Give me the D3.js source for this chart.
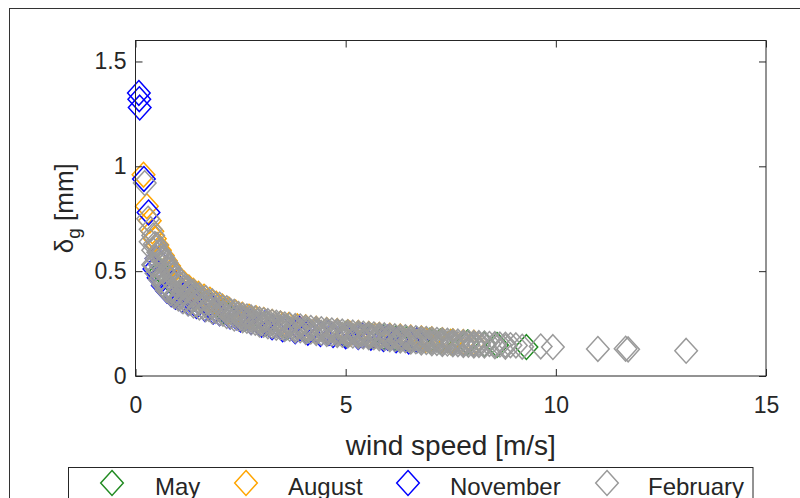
<!DOCTYPE html>
<html>
<head>
<meta charset="utf-8">
<script src="https://cdn.jsdelivr.net/npm/d3@7"></script>
<style>
  body { margin: 0; background: #fff; }
  text { font-family: Arial, "Liberation Sans", sans-serif; fill: #262626; }
</style>
</head>
<body>
<div id="chart"></div>
<script>
const months = ["May", "August", "November", "February"];
const colors = ["#228b22", "#ffa500", "#0000ff", "#9a9a9a"];
const xTicks = [0, 5, 10, 15];
const yTicks = [0, 0.5, 1, 1.5];

// [wind speed, delta_g]
const may = [[0.6,0.5],[0.85,0.45],[1.1,0.405],[1.4,0.37],[1.75,0.34],[2.1,0.31],[2.6,0.274],[3.1,0.25],
  [3.6,0.233],[4.1,0.219],[4.6,0.207],[5.0,0.2],[5.3,0.195],[5.6,0.19],[5.9,0.186],[6.2,0.18],[6.45,0.177],
  [6.7,0.172],[7.0,0.168],[7.25,0.165],[7.5,0.162],[7.9,0.16],[8.3,0.152],[8.6,0.148],[9.3,0.138]];

const august = [[0.19,0.96],[0.27,0.81],[0.34,0.74],[0.4,0.69],[0.46,0.655],[0.52,0.625],[0.58,0.6],[0.65,0.575],
  [0.72,0.55],[0.8,0.525],[0.88,0.5],[0.97,0.478],[1.06,0.458],[1.16,0.44],[1.27,0.422],[1.38,0.406],[1.5,0.392],
  [1.63,0.378],[1.77,0.364],[1.92,0.345],[2.07,0.331],[2.22,0.317],[2.38,0.303],[2.54,0.292],[2.7,0.283],
  [2.87,0.275],[3.05,0.267],[3.25,0.258],[3.45,0.25],[3.65,0.243],[3.85,0.237],[4.05,0.232],[4.3,0.225],
  [4.55,0.219],[4.8,0.214],[5.05,0.209],[5.3,0.205],[5.55,0.2],[5.8,0.196],[6.05,0.192],[6.3,0.188],
  [6.55,0.183],[6.8,0.179],[7.05,0.175],[7.3,0.171],[7.55,0.166],[7.8,0.162],[8.05,0.159],
  [0.7,0.49],[1.1,0.41],[1.6,0.355],[2.2,0.305],[2.9,0.265],[3.5,0.242],[4.3,0.215],[5.1,0.202],
  [5.7,0.192],[6.3,0.182],[6.9,0.172],[7.5,0.162]];

const november = [[0.08,1.35],[0.09,1.32],[0.1,1.28],[0.2,0.94],[0.31,0.78],
  [0.45,0.51],[0.55,0.468],[0.65,0.432],[0.75,0.407],[0.85,0.39],[0.95,0.378],[1.1,0.362],[1.26,0.348],
  [1.45,0.334],[1.65,0.32],[1.85,0.308],[2.0,0.299],[2.25,0.284],[2.5,0.27],[2.75,0.257],[3.0,0.244],
  [3.25,0.233],[3.5,0.223],[3.8,0.214],[4.1,0.206],[4.4,0.2],[4.7,0.195],[5.0,0.19],[5.3,0.186],
  [5.6,0.182],[5.9,0.177],[6.2,0.17],[6.5,0.164],
  [0.5,0.56],[0.9,0.45],[1.3,0.38],[1.8,0.33],[2.4,0.28],[3.1,0.255],[3.9,0.225],[4.6,0.205],
  [5.4,0.193],[6.0,0.182],[6.7,0.172]];

const february = [[0.22,0.92],[0.3,0.75],[0.36,0.7],[0.36,0.64],
  [0.42,0.67],[0.42,0.6],[0.42,0.53],[0.5,0.625],[0.5,0.56],[0.5,0.49],[0.58,0.59],[0.58,0.53],[0.58,0.46],
  [0.66,0.565],[0.66,0.5],[0.66,0.435],[0.74,0.54],[0.74,0.48],[0.74,0.41],[0.83,0.51],[0.83,0.46],[0.83,0.395],
  [0.92,0.485],[0.92,0.44],[0.92,0.382],[1.02,0.462],[1.02,0.42],[1.02,0.37],[1.13,0.44],[1.13,0.4],[1.13,0.357],
  [1.25,0.42],[1.25,0.385],[1.25,0.346],[1.38,0.402],[1.38,0.37],[1.38,0.336],[1.52,0.386],[1.52,0.357],[1.52,0.327],
  [1.67,0.372],[1.67,0.345],[1.67,0.318],[1.83,0.356],[1.83,0.333],[1.83,0.308],[2.0,0.34],[2.0,0.32],[2.0,0.299],
  [2.17,0.323],[2.17,0.306],[2.17,0.286],[2.35,0.306],[2.35,0.292],[2.35,0.274],[2.55,0.29],[2.55,0.278],[2.55,0.266],
  [2.75,0.28],[2.75,0.268],[2.75,0.256],[2.95,0.27],[2.95,0.258],[2.95,0.246],[3.15,0.262],[3.15,0.25],[3.15,0.237],
  [3.35,0.254],[3.35,0.242],[3.35,0.23],[3.55,0.246],[3.55,0.235],[3.55,0.224],[3.8,0.238],[3.8,0.227],[3.8,0.217],
  [4.05,0.231],[4.05,0.221],[4.05,0.21],[4.3,0.225],[4.3,0.215],[4.3,0.205],[4.55,0.219],[4.55,0.209],[4.55,0.2],
  [4.8,0.214],[4.8,0.205],[4.8,0.196],[5.05,0.209],[5.05,0.2],[5.05,0.193],[5.3,0.205],[5.3,0.196],[5.3,0.189],
  [5.55,0.2],[5.55,0.192],[5.55,0.185],[5.8,0.196],[5.8,0.188],[5.8,0.18],[6.05,0.191],[6.05,0.183],[6.05,0.175],
  [6.3,0.187],[6.3,0.178],[6.3,0.169],[6.55,0.182],[6.55,0.173],[6.55,0.164],[6.8,0.178],[6.8,0.169],[6.8,0.16],
  [7.05,0.174],[7.05,0.165],[7.05,0.156],[7.3,0.17],[7.3,0.161],[7.3,0.153],[7.55,0.165],[7.55,0.158],[7.55,0.151],
  [7.8,0.161],[7.8,0.155],[7.8,0.148],[8.05,0.158],[8.05,0.152],[8.05,0.145],[8.3,0.155],[8.3,0.145],
  [8.55,0.152],[8.55,0.142],[8.8,0.149],[8.8,0.14],[9.05,0.146],[9.2,0.14],[9.64,0.141],[9.93,0.138],
  [11.0,0.129],[11.66,0.13],[11.72,0.127],[13.1,0.12],
  [0.46,0.63],[0.46,0.53],[0.54,0.59],[0.54,0.5],[0.62,0.56],[0.62,0.47],[0.7,0.53],[0.7,0.445],
  [0.78,0.505],[0.78,0.425],[0.87,0.48],[0.87,0.41],[0.97,0.455],[0.97,0.395],[1.07,0.435],[1.07,0.38],
  [1.19,0.415],[1.19,0.365],[1.31,0.398],[1.31,0.352],[1.45,0.382],[1.45,0.34],[1.6,0.368],[1.6,0.33],
  [1.75,0.354],[1.75,0.32],[1.91,0.34],[1.91,0.31],[2.08,0.326],[2.08,0.297],[2.26,0.31],[2.26,0.285],
  [2.45,0.296],[2.45,0.274],[2.65,0.284],[2.65,0.264],[2.85,0.275],[2.85,0.254],[3.05,0.266],[3.05,0.245],
  [3.25,0.258],[3.25,0.238],[3.45,0.25],[3.45,0.231],[3.67,0.243],[3.67,0.225],[3.92,0.236],[3.92,0.218],
  [4.17,0.229],[4.17,0.212],[4.42,0.223],[4.42,0.206],[4.67,0.217],[4.67,0.201],[4.92,0.212],[4.92,0.197],
  [5.17,0.207],[5.17,0.193],[5.42,0.202],[5.42,0.189],[5.67,0.198],[5.67,0.185],[5.92,0.194],[5.92,0.18],
  [6.17,0.189],[6.17,0.175],[6.42,0.185],[6.42,0.17],[6.67,0.18],[6.67,0.166],[6.92,0.176],[6.92,0.162],
  [7.17,0.172],[7.17,0.158],[7.42,0.168],[7.42,0.155],[7.67,0.164],[7.67,0.152],[7.92,0.16],[7.92,0.149],
  [8.17,0.157],[8.17,0.148],[8.42,0.153],[8.67,0.15],[8.92,0.147]];

const series = [may, august, november, february];

const width = 800, height = 498;
const svg = d3.select("#chart").append("svg")
  .attr("width", width)
  .attr("height", height);

// figure border (cropped on the right and bottom)
svg.append("rect")
  .attr("x", 9.5).attr("y", 8.5)
  .attr("width", 900).attr("height", 600)
  .attr("fill", "none").attr("stroke", "#333");

const plotLeft = 135.5, plotRight = 766, plotTop = 40.5, plotBottom = 376;

const x = d3.scaleLinear().domain([0, 15]).range([plotLeft, plotRight]);
const y = d3.scaleLinear().domain([0, 1.6]).range([plotBottom, plotTop]);

const diamond = (hw, hh) => `M0,${-hh}L${hw},0L0,${hh}L${-hw},0Z`;
const marker = diamond(11.3, 12.4);

// markers
const plot = svg.append("g");
series.forEach((data, i) => {
  plot.append("g")
    .selectAll("path")
    .data(data)
    .join("path")
    .attr("d", marker)
    .attr("transform", d => `translate(${x(d[0])},${y(d[1])})`)
    .attr("fill", "none")
    .attr("stroke", colors[i])
    .attr("stroke-width", 1.5);
});

// axes, ticks pointing inward on all four sides
const tickLen = 7;
const styleAxis = g => {
  g.select(".domain").remove();
  g.selectAll(".tick line").attr("stroke", "#262626");
  g.selectAll(".tick text").attr("font-size", 23).attr("fill", "#262626")
    .attr("font-family", "Arial, 'Liberation Sans', sans-serif");
};

svg.append("g")
  .attr("transform", `translate(0,${plotBottom})`)
  .call(d3.axisBottom(x).tickValues(xTicks).tickSizeInner(-tickLen).tickSizeOuter(0)
    .tickPadding(21).tickFormat(d => d))
  .call(styleAxis);

svg.append("g")
  .attr("transform", `translate(0,${plotTop})`)
  .call(d3.axisTop(x).tickValues(xTicks).tickSizeInner(-tickLen).tickSizeOuter(0).tickFormat(""))
  .call(styleAxis);

svg.append("g")
  .attr("transform", `translate(${plotLeft},0)`)
  .call(d3.axisLeft(y).tickValues(yTicks).tickSizeInner(-tickLen).tickSizeOuter(0)
    .tickPadding(9).tickFormat(d => d))
  .call(styleAxis);

svg.append("g")
  .attr("transform", `translate(${plotRight},0)`)
  .call(d3.axisRight(y).tickValues(yTicks).tickSizeInner(-tickLen).tickSizeOuter(0).tickFormat(""))
  .call(styleAxis);

// box
svg.append("rect")
  .attr("x", plotLeft).attr("y", plotTop)
  .attr("width", plotRight - plotLeft).attr("height", plotBottom - plotTop)
  .attr("fill", "none").attr("stroke", "#262626");

// axis labels
svg.append("text")
  .attr("x", (plotLeft + plotRight) / 2).attr("y", 455)
  .attr("text-anchor", "middle")
  .attr("font-size", 28)
  .text("wind speed [m/s]");

const ylab = svg.append("text")
  .attr("transform", `translate(73,${(plotTop + plotBottom) / 2}) rotate(-90)`)
  .attr("text-anchor", "middle")
  .attr("font-size", 26);
ylab.append("tspan").text("δ");
ylab.append("tspan").attr("font-size", 19).attr("dy", 7).text("g");
ylab.append("tspan").attr("dy", -7).text(" [mm]");

// legend
const legendMarkX = [112, 246, 408, 607];
const legendTextX = [155, 288, 450, 648];
const legend = svg.append("g");
legend.append("rect")
  .attr("x", 68.5).attr("y", 467.5)
  .attr("width", 753 - 68.5).attr("height", 60)
  .attr("fill", "#fff").attr("stroke", "#262626");

legend.selectAll("path")
  .data(months)
  .join("path")
  .attr("d", marker)
  .attr("transform", (d, i) => `translate(${legendMarkX[i]},483)`)
  .attr("fill", "none")
  .attr("stroke", (d, i) => colors[i])
  .attr("stroke-width", 1.5);

legend.selectAll("text")
  .data(months)
  .join("text")
  .attr("x", (d, i) => legendTextX[i])
  .attr("y", 495)
  .attr("font-size", 24)
  .text(d => d);
</script>
</body>
</html>
